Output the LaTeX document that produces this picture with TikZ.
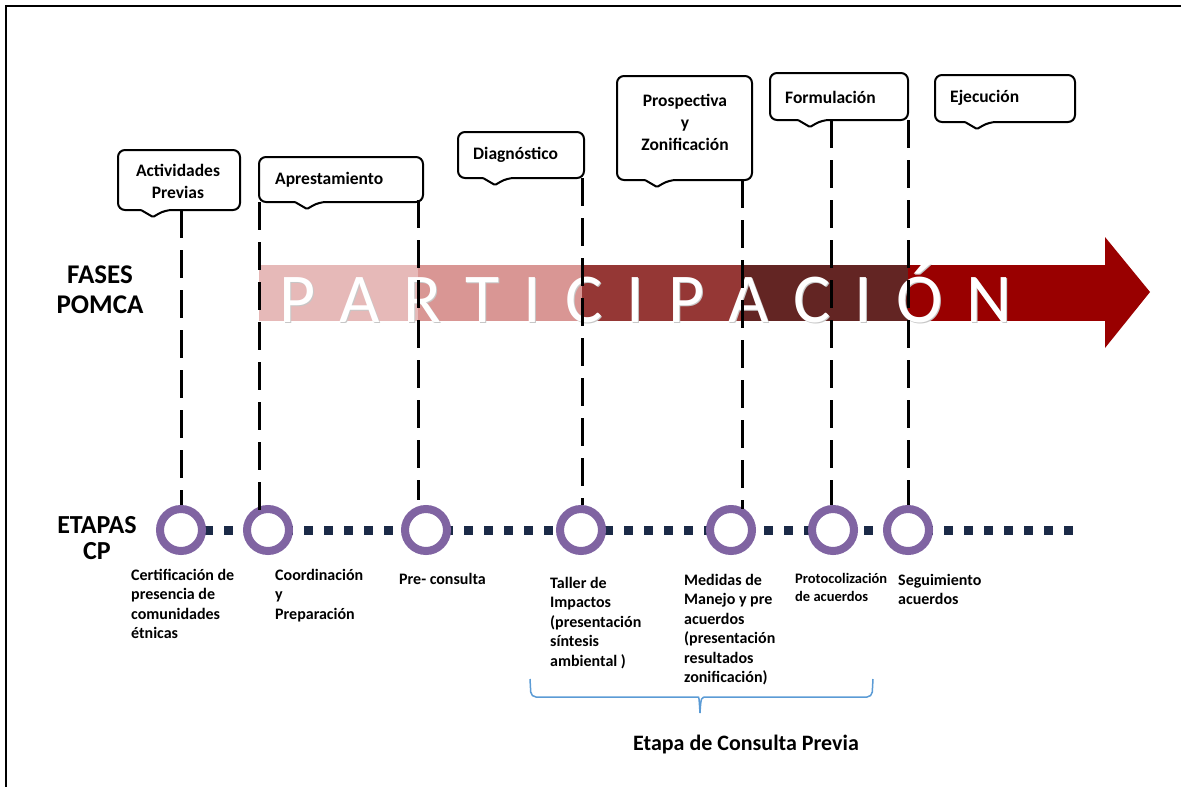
\documentclass[tikz,border=0pt]{standalone}
\usepackage{fontspec}
\setmainfont{Carlito}

\definecolor{ringpurple}{HTML}{8064A2}
\definecolor{dotnavy}{HTML}{1B2A47}
\definecolor{braceblue}{HTML}{5B9BD5}
\definecolor{partA}{HTML}{E6B9B8}
\definecolor{partB}{HTML}{D99694}
\definecolor{partC}{HTML}{953735}
\definecolor{partD}{HTML}{632523}
\definecolor{partE}{HTML}{990000}

\newcommand\phasetextstyle{\fontsize{17.5}{22}\selectfont\bfseries}
\newcommand\stagetextstyle{\fontsize{16}{19.5}\selectfont\bfseries}
\newcommand\sidetextstyle{\fontsize{27}{30}\selectfont\bfseries}
\newcommand\parttextstyle{\fontsize{70}{70}\selectfont}
\newcommand\pgap{\hspace{24pt}}
\newcommand\calloutbox[5]{
  \draw[line width=2, rounded corners=7] (#1+20,#2) -- (#3,#2) -- (#3,#4) -- (#5+12,#4)
    [rounded corners=1] -- (#5,#4+7) -- (#5-12,#4) [rounded corners=7] -- (#1,#4) -- (#1,#2) -- cycle ;
}
\newcommand\partsegment[3]{
  \fill[#3] (#1,265) rectangle (#2,321) ;
}

\tikzset{
  phaseline/.style={line width=3, dash pattern=on 28 off 12},
  stageline/.style={dotnavy, line width=9, dash pattern=on 9 off 11},
  stagering/.style={circle, draw=ringpurple, line width=8, fill=white, minimum size=42, inner sep=0},
  stagelabel/.style={anchor=north west, align=left, inner sep=0, font=\stagetextstyle},
  phaselabel/.style={inner sep=0, font=\phasetextstyle},
}

\begin{document}
\begin{tikzpicture}[x=1pt, y=-1pt]
  \useasboundingbox (0,0) rectangle (1181,787) ;
  \draw[line width=1.2] (6,787) -- (6,6) -- (1181,6) ;

  \partsegment{259}{418}{partA}
  \partsegment{418}{582}{partB}
  \partsegment{582}{742}{partC}
  \partsegment{742}{908}{partD}
  \partsegment{908}{1106}{partE}
  \fill[partE] (1105,237) -- (1150,292) -- (1105,348) -- cycle ;
  \node[anchor=west, inner sep=0, text=black!22, font=\parttextstyle] (partshadow) at (280,295)
    {P\pgap A\pgap R\pgap T\pgap I\pgap C\pgap I\pgap P\pgap A\pgap C\pgap I\pgap Ó\pgap N} ;
  \node[anchor=west, inner sep=0, text=white, font=\parttextstyle] (parttext) at (279,294)
    {P\pgap A\pgap R\pgap T\pgap I\pgap C\pgap I\pgap P\pgap A\pgap C\pgap I\pgap Ó\pgap N} ;

  \node[align=center, font=\sidetextstyle] (fases) at (100,290) {FASES\\POMCA} ;
  \node[align=center, font=\fontsize{26}{26}\selectfont\bfseries] (etapas) at (97,538) {ETAPAS\\CP} ;

  \calloutbox{118}{150}{240}{210}{153}
  \calloutbox{259}{157}{423}{202}{307}
  \calloutbox{458}{132}{584}{178}{495}
  \calloutbox{617}{76}{752}{180}{657}
  \calloutbox{770}{73}{908}{120}{810}
  \calloutbox{935}{75}{1075}{122}{977}
  \node[phaselabel, align=center] (f1) at (178,181) {Actividades\\Previas} ;
  \node[phaselabel, anchor=west] (f2) at (275,180) {Aprestamiento} ;
  \node[phaselabel, anchor=west] (f3) at (473,155) {Diagnóstico} ;
  \node[phaselabel, align=center] (f4) at (685,122) {Prospectiva\\y\\Zonificación} ;
  \node[phaselabel, anchor=west] (f5) at (785,97) {Formulación} ;
  \node[phaselabel, anchor=west] (f6) at (950,98) {Ejecución} ;

  \coordinate (cpstart) at (204,530) ;
  \coordinate (cpend) at (1078,530) ;
  \draw[stageline] (cpstart) -- (cpend) ;
  \node[stagering] (s1) at (181,530) {} ;
  \node[stagering] (s2) at (268,530) {} ;
  \node[stagering] (s3) at (426,530) {} ;
  \node[stagering] (s4) at (581,530) {} ;
  \node[stagering] (s5) at (731,530) {} ;
  \node[stagering] (s6) at (833,530) {} ;
  \node[stagering] (s7) at (908,530) {} ;

  \coordinate (l1) at (181,210) ;
  \coordinate (l2) at (259,202) ;
  \coordinate (l3) at (418,200) ;
  \coordinate (l4) at (582,178) ;
  \coordinate (l5) at (742,180) ;
  \coordinate (l6) at (831,120) ;
  \coordinate (l7) at (908,120) ;
  \draw[phaseline] (l1) -- (l1 |- s1.north) ;
  \draw[phaseline] (l2) -- (259,518) ;
  \draw[phaseline] (l3) -- (418,500) ;
  \draw[phaseline] (l4) -- (l4 |- s4.north) ;
  \draw[phaseline] (l5) -- (742,509) ;
  \draw[phaseline] (l6) -- (831,505) ;
  \draw[phaseline] (l7) -- (l7 |- s7.north) ;

  \node[stagelabel] (e1) at (131,569) {Certificación de\\presencia de\\comunidades\\étnicas} ;
  \node[stagelabel] (e2) at (275,569) {Coordinación\\y\\Preparación} ;
  \node[stagelabel] (e3) at (399,573) {Pre- consulta} ;
  \node[stagelabel] (e4) at (550,577) {Taller de\\Impactos\\(presentación\\síntesis\\ambiental )} ;
  \node[stagelabel] (e5) at (684,574) {Medidas de\\Manejo y pre\\acuerdos\\(presentación\\resultados\\zonificación)} ;
  \node[stagelabel, font=\fontsize{14.5}{18.5}\selectfont\bfseries] (e6) at (795,573) {Protocolización\\de acuerdos} ;
  \node[stagelabel] (e7) at (898,574) {Seguimiento\\acuerdos} ;

  \coordinate (bracestart) at (530,679) ;
  \coordinate (braceend) at (873,679) ;
  \coordinate (bracetip) at (700,713) ;
  \draw[braceblue, line width=1.5] (bracestart) [rounded corners=5] -- (531,697) -- (693,697)
    [rounded corners=0] .. controls (699,697) .. (bracetip) .. controls (701,697) .. (707,697)
    [rounded corners=5] -- (872,697) -- (braceend) ;
  \node[font=\fontsize{22}{24}\selectfont\bfseries] (consulta) at (746,745) {Etapa de Consulta Previa} ;
\end{tikzpicture}
\end{document}
